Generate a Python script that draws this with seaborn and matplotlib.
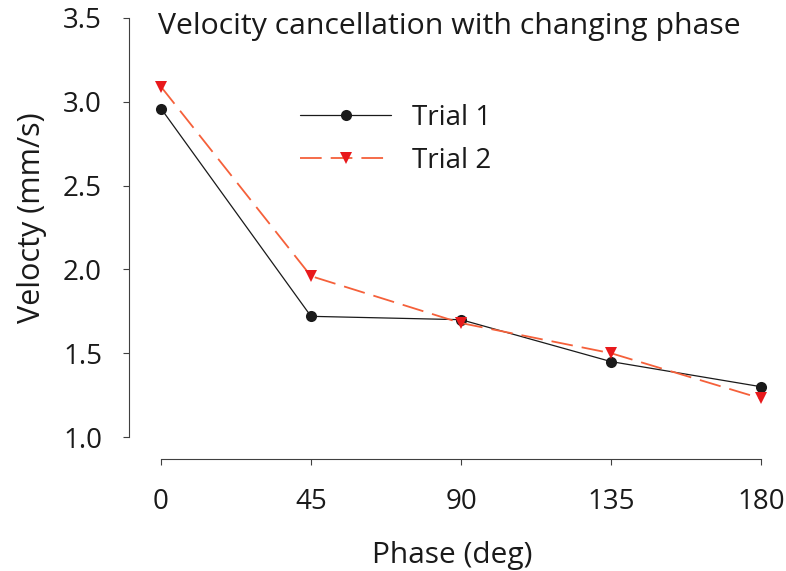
import matplotlib
matplotlib.use("Agg")
import matplotlib.pyplot as plt
import seaborn as sns
import pandas as pd

phase = [0, 45, 90, 135, 180]
trial1 = [2.96, 1.72, 1.70, 1.45, 1.30]
trial2 = [3.09, 1.96, 1.68, 1.50, 1.23]
xticks = [0, 45, 90, 135, 180]
yticks = [1.0, 1.5, 2.0, 2.5, 3.0, 3.5]
title = "Velocity cancellation with changing phase"
series_names = ["Trial 1", "Trial 2"]

sns.set_style("ticks")
plt.rcParams['font.family'] = ['Open Sans', 'DejaVu Sans']

W, H = 786, 571
fig = plt.figure(figsize=(W / 100, H / 100), dpi=100)
ax = fig.add_axes([161 / W, (H - 437) / H, 600 / W, 419 / H])

df1 = pd.DataFrame({"Phase": phase, "Velocity": trial1})
df2 = pd.DataFrame({"Phase": phase, "Velocity": trial2})

sns.lineplot(data=df1, x="Phase", y="Velocity", ax=ax, color="#1a1a1a",
             linewidth=0.9, marker="o", markersize=8, markeredgewidth=0,
             markerfacecolor="#1a1a1a", label=series_names[0], clip_on=False)
sns.lineplot(data=df2, x="Phase", y="Velocity", ax=ax, color="#f5603a",
             linewidth=1.3, marker="v", markersize=9, markeredgewidth=0,
             markerfacecolor="#e8191c", dashes=(12, 5), label=series_names[1],
             clip_on=False)

ax.set_xlim(0, 180)
ax.set_ylim(1.0, 3.5)
ax.set_xticks(xticks)
ax.set_xticklabels([str(t) for t in xticks])
ax.set_yticks(yticks)
ax.set_yticklabels([f"{t:.1f}" for t in yticks])
ax.set_xlabel("")
ax.set_ylabel("")

for s in ["top", "right"]:
    ax.spines[s].set_visible(False)
ax.spines["left"].set_position(("outward", 23))
ax.spines["bottom"].set_position(("outward", 16))
for s in ["left", "bottom"]:
    ax.spines[s].set_color("#404040")
    ax.spines[s].set_linewidth(0.8)
ax.tick_params(axis="both", colors="#404040", length=4.5, width=0.8,
               labelsize=20, labelcolor="#1a1a1a", pad=15)
ax.tick_params(axis="x", pad=16)

leg = ax.legend(loc="upper left", bbox_to_anchor=(300 / W, 1 - 104 / H),
                bbox_transform=fig.transFigure, frameon=False, fontsize=20,
                handlelength=3.28, handletextpad=0.75, labelspacing=0.54,
                borderpad=0, borderaxespad=0)
for t in leg.get_texts():
    t.set_color("#1a1a1a")

fig.text(449 / W, 1 - 34 / H, title, ha="center", va="baseline",
         fontsize=21.8, color="#1a1a1a")
fig.text(452 / W, 1 - 563 / H, "Phase (deg)", ha="center", va="baseline",
         fontsize=21.5, color="#1a1a1a")
fig.text(32 / W, 1 - 218 / H, "Velocty (mm/s)", ha="center", va="center",
         rotation=90, fontsize=22, color="#1a1a1a")

fig.savefig("out.png", dpi=100)
